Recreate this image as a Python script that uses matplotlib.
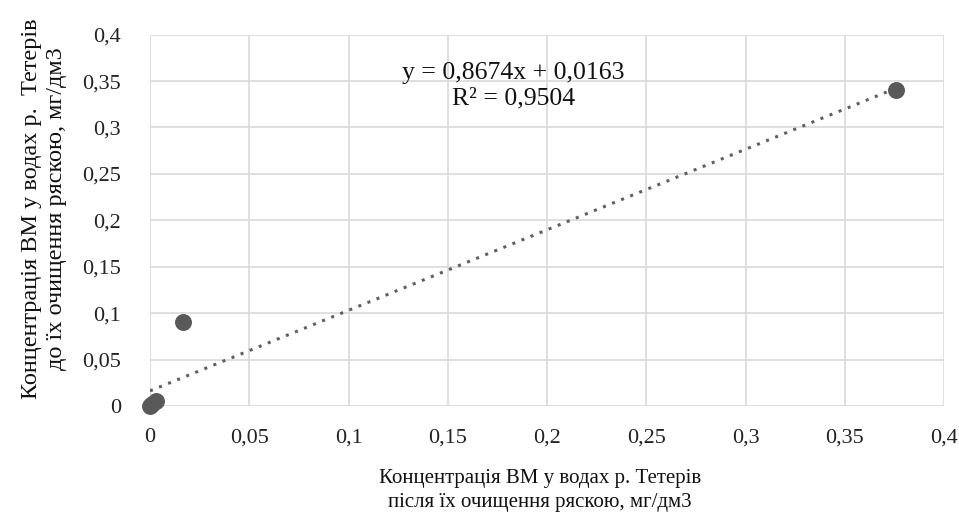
import numpy as np
import matplotlib.pyplot as plt
from matplotlib.ticker import FuncFormatter

plt.rcParams['font.family'] = ['Liberation Serif', 'DejaVu Serif']

# data
x_after = [0.0, 0.001, 0.003, 0.0166, 0.376]
y_before = [0.0, 0.002, 0.005, 0.0905, 0.340]

# trendline coefficients as printed on the chart
slope = 0.8674
intercept = 0.0163
r2 = 0.9504

xticks = np.arange(0, 0.401, 0.05)
yticks = np.arange(0, 0.401, 0.05)

fig = plt.figure(figsize=(9.59, 5.17), dpi=100)
ax = fig.add_axes([0.1564, 0.2147, 0.828, 0.7183])

ax.set_xlim(0, 0.4)
ax.set_ylim(0, 0.4)
ax.set_xticks(xticks)
ax.set_yticks(yticks)
ax.grid(True, color='#d9d9d9', linewidth=1.2)
ax.set_axisbelow(True)
for s in ax.spines.values():
    s.set_visible(False)

comma = FuncFormatter(lambda v, p: ('%g' % round(v, 3)).replace('.', ','))
ax.xaxis.set_major_formatter(comma)
ax.yaxis.set_major_formatter(comma)
ax.tick_params(length=0, labelsize=16, colors='#222222')
ax.tick_params(axis='x', pad=16)
ax.tick_params(axis='y', pad=21)

# trendline
tx = np.array([min(x_after), max(x_after)])
ax.plot(tx, slope * tx + intercept, linestyle=(0, (1, 2.2)), color='#606060',
        linewidth=2.2, zorder=2)

ax.scatter(x_after, y_before, s=125, color='#595959', zorder=3, clip_on=False)

eq = 'y = %sx + %s\nR² = %s' % (str(slope).replace('.', ','),
                                 str(intercept).replace('.', ','),
                                 str(r2).replace('.', ','))
ax.text(0.183, 0.345, eq, ha='center', va='center', fontsize=18.5,
        linespacing=1.2, color='#111111')

fig.text(0.563, 0.051, 'Концентрація ВМ у водах р. Тетерів\nпісля їх очищення ряскою, мг/дм3',
         ha='center', va='center', fontsize=15, linespacing=1.36, color='#111111')
fig.text(0.046, 0.597, 'Концентрація ВМ у водах р.  Тетерів\nдо їх очищення ряскою, мг/дм3',
         ha='center', va='center', rotation=90, fontsize=17.5, linespacing=1.25,
         color='#111111')

fig.savefig('out.png', dpi=100)
